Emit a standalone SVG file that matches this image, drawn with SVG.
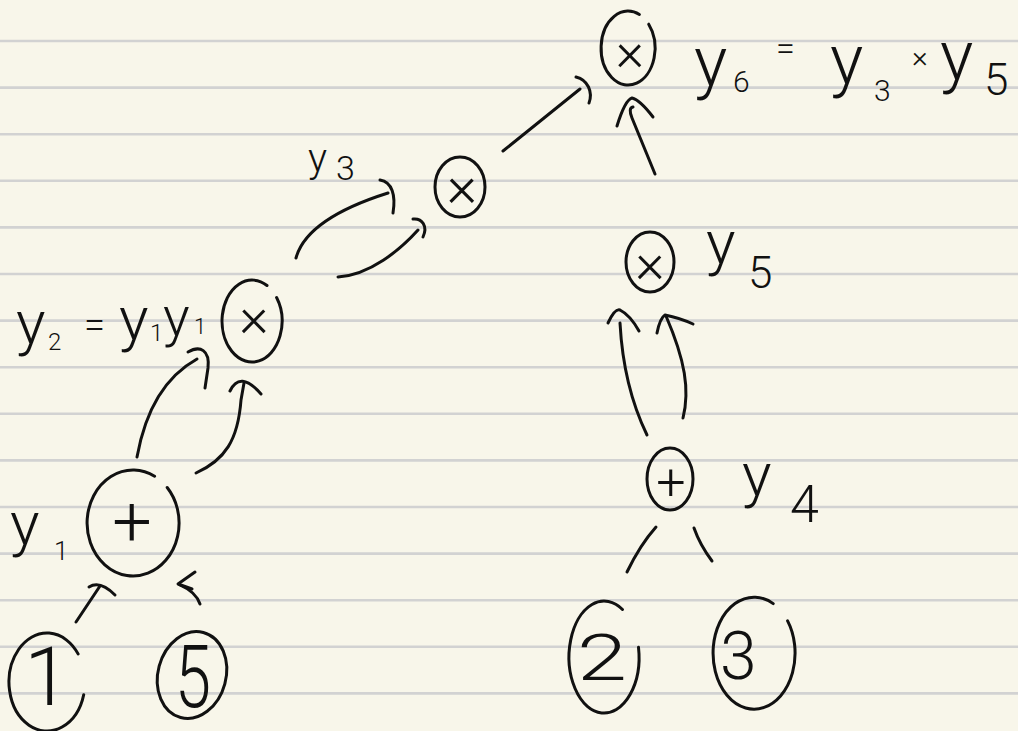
<svg xmlns="http://www.w3.org/2000/svg" width="1018" height="731" viewBox="0 0 1018 731">
<style>
.bg{fill:#f8f6ea}
.rule{stroke:#d2d2d2;stroke-width:2.6}
.ink{fill:none;stroke:#111;stroke-width:3;stroke-linecap:round;stroke-linejoin:round}
.t{font-family:Roboto,"Liberation Sans",Arial,sans-serif;font-weight:300;fill:#111}
.c{text-anchor:middle}
</style>
<rect class="bg" x="0" y="0" width="1018" height="731"/>
<g id="ruled-lines">
<line class="rule" x1="0" y1="41" x2="1018" y2="41"/>
<line class="rule" x1="0" y1="87.6" x2="1018" y2="87.6"/>
<line class="rule" x1="0" y1="134.2" x2="1018" y2="134.2"/>
<line class="rule" x1="0" y1="180.8" x2="1018" y2="180.8"/>
<line class="rule" x1="0" y1="227.4" x2="1018" y2="227.4"/>
<line class="rule" x1="0" y1="274" x2="1018" y2="274"/>
<line class="rule" x1="0" y1="320.6" x2="1018" y2="320.6"/>
<line class="rule" x1="0" y1="367.2" x2="1018" y2="367.2"/>
<line class="rule" x1="0" y1="413.8" x2="1018" y2="413.8"/>
<line class="rule" x1="0" y1="460.4" x2="1018" y2="460.4"/>
<line class="rule" x1="0" y1="507" x2="1018" y2="507"/>
<line class="rule" x1="0" y1="553.6" x2="1018" y2="553.6"/>
<line class="rule" x1="0" y1="600.2" x2="1018" y2="600.2"/>
<line class="rule" x1="0" y1="646.8" x2="1018" y2="646.8"/>
<line class="rule" x1="0" y1="693.4" x2="1018" y2="693.4"/>
</g>
<g id="connectors">
<path class="ink" d="M76,622 L100,586"/>
<path class="ink" d="M89,587 Q100,580 115,595"/>
<path class="ink" d="M200,604 Q196,592 180,585"/>
<path class="ink" d="M195,572 L178,584 L192,589"/>
<path class="ink" d="M137,457 Q150,385 197,359"/>
<path class="ink" d="M188,352 C200,345 210,350 208,368 L205,388"/>
<path class="ink" d="M196,473 C225,460 238,440 241,400 L244,383"/>
<path class="ink" d="M230,391 Q240,370 261,394"/>
<path class="ink" d="M296,258 C305,225 350,205 388,193"/>
<path class="ink" d="M380,180 C392,182 396,195 393,213"/>
<path class="ink" d="M338,277 C370,275 400,250 418,230"/>
<path class="ink" d="M413,219 C422,218 428,226 423,237"/>
<path class="ink" d="M503,151 L580,89"/>
<path class="ink" d="M576,77 C588,80 593,92 589,103"/>
<path class="ink" d="M655,174 L632,118 Q628,108 633,107"/>
<path class="ink" d="M617,126 Q625,100 632,98 Q640,100 653,117"/>
<path class="ink" d="M647,435 C630,400 622,360 620,323"/>
<path class="ink" d="M608,323 Q615,308 620,310 Q630,315 639,331"/>
<path class="ink" d="M683,418 C690,390 685,360 666,316"/>
<path class="ink" d="M657,333 Q660,318 665,315 Q680,318 693,324"/>
<path class="ink" d="M627,572 Q640,545 656,527"/>
<path class="ink" d="M694,528 Q700,545 712,561"/>
</g>
<g id="node-y6">
<path class="ink" d="M648.7,24.2 A27,37 0 1 1 639.4,14.5"/>
<text class="t c" x="630" y="70" font-size="54">×</text>
<text class="t" x="694" y="86" font-size="70">y</text>
<text class="t" x="733" y="92" font-size="30">6</text>
<text class="t" x="776" y="60" font-size="34">=</text>
<text class="t" x="830" y="84" font-size="70">y</text>
<text class="t" x="874" y="101" font-size="30">3</text>
<text class="t" x="912" y="67" font-size="30">×</text>
<text class="t" x="940" y="80" font-size="70">y</text>
<text class="t" x="984" y="95" font-size="44">5</text>
</g>
<g id="node-y3">
<ellipse class="ink" cx="460" cy="187" rx="25" ry="30"/>
<text class="t c" x="462" y="206" font-size="58">×</text>
<text class="t" x="308" y="172" font-size="40">y</text>
<text class="t" x="336" y="180" font-size="34">3</text>
</g>
<g id="node-y2">
<path class="ink" d="M276.6,297.5 A30,41 0 1 1 267,285.5"/>
<text class="t c" x="254" y="336" font-size="56">×</text>
<text class="t" x="16" y="344" font-size="62">y</text>
<text class="t" x="48" y="350" font-size="24">2</text>
<text class="t" x="84" y="338" font-size="38">=</text>
<text class="t" x="119" y="340" font-size="62">y</text>
<text class="t" x="150" y="341" font-size="24">1</text>
<text class="t" x="163" y="336" font-size="56">y</text>
<text class="t" x="194" y="334" font-size="22">1</text>
</g>
<g id="node-y1">
<path class="ink" d="M167.2,487.5 A46,53 0 1 1 154.6,476.2"/>
<text class="t c" x="132" y="546" font-size="70">+</text>
<text class="t" x="10" y="545" font-size="62">y</text>
<text class="t" x="54" y="560" font-size="26">1</text>
</g>
<g id="node-1">
<path class="ink" d="M83.7,694.7 A38,49 0 1 1 78.1,653.9"/>
<text class="t c" x="47" y="705" font-size="82">1</text>
</g>
<g id="node-5">
<ellipse class="ink" cx="192" cy="675" rx="34" ry="44" transform="rotate(15 192 675)"/>
<text class="t" x="175" y="707" font-size="88" textLength="36" lengthAdjust="spacingAndGlyphs">5</text>
</g>
<g id="node-y5">
<ellipse class="ink" cx="650" cy="262" rx="24" ry="30"/>
<text class="t c" x="650" y="282" font-size="56">×</text>
<text class="t" x="706" y="264" font-size="62">y</text>
<text class="t" x="748" y="288" font-size="44">5</text>
</g>
<g id="node-y4">
<ellipse class="ink" cx="670" cy="479" rx="23" ry="31"/>
<text class="t c" x="671" y="500" font-size="52">+</text>
<text class="t" x="742" y="496" font-size="62">y</text>
<text class="t" x="790" y="522" font-size="52">4</text>
</g>
<g id="node-2">
<path class="ink" d="M638.5,647.3 A35,56 0 1 1 622.5,609.5"/>
<text class="t" x="577" y="680" font-size="64" textLength="50" lengthAdjust="spacingAndGlyphs">2</text>
</g>
<g id="node-3">
<path class="ink" d="M787.6,620.9 A41,56 0 1 1 773.2,603.6"/>
<text class="t" x="720" y="679" font-size="66">3</text>
</g>
</svg>
